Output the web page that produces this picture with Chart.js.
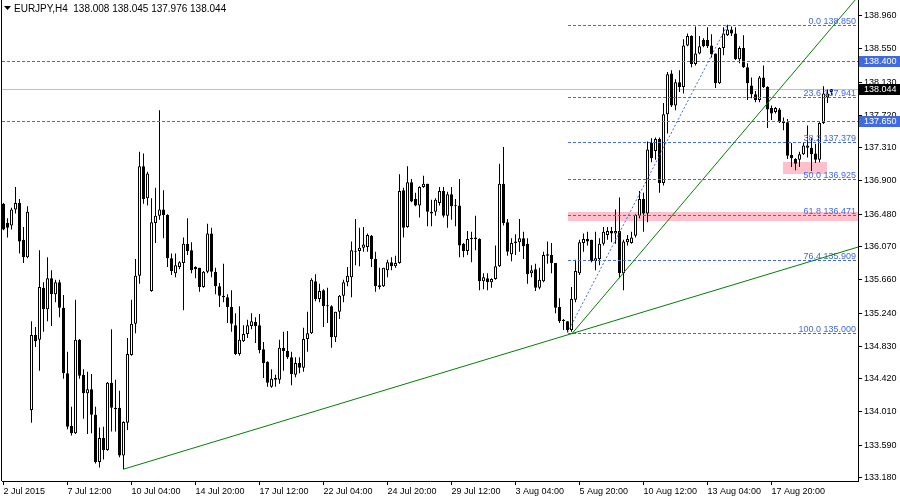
<!DOCTYPE html>
<html>
<head>
<meta charset="utf-8">
<script src="https://cdn.jsdelivr.net/npm/chart.js@4.4.1/dist/chart.umd.min.js"></script>
<style>
  html, body { margin: 0; padding: 0; background: #fff; }
  #wrap { width: 900px; height: 500px; }
</style>
</head>
<body>
<div id="wrap"><canvas id="chart" width="900" height="500"></canvas></div>
<script>
// EURJPY H4, one value per bar, bar 0 = 2 Jul 2015 20:00
const opens = [
  136.61, 136.37, 136.34, 136.54, 136.62, 136.16, 135.94, 134.03, 134.97, 134.91,
  135.56, 135.29, 135.68, 135.48, 135.63, 135.31, 134.49, 133.83, 133.74, 134.91,
  134.47, 134.24, 134.29, 133.97, 133.38, 133.68, 133.53, 134.37, 134.06, 134.06,
  133.46, 133.87, 134.72, 135.11, 135.71, 137.08, 136.68, 135.52, 136.37, 136.46,
  136.54, 136.47, 135.93, 135.74, 135.82, 135.87, 136.11, 136.03, 135.82, 135.81,
  135.57, 135.76, 136.24, 135.76, 135.58, 135.46, 135.44, 135.32, 135.09, 134.73,
  134.89, 134.98, 135.08, 135.13, 135.09, 134.79, 134.63, 134.32, 134.43, 134.41,
  134.81, 134.77, 134.69, 134.47, 134.62, 134.56, 134.92, 134.99, 135.64, 135.42,
  135.53, 135.34, 135.33, 134.94, 135.26, 135.46, 135.63, 135.69, 136.02, 136.02,
  136.06, 136.07, 136.21, 135.92, 135.59, 135.58, 135.78, 135.88, 135.83, 135.87,
  136.78, 136.32, 136.88, 136.67, 136.59, 136.82, 136.86, 136.51, 136.51, 136.62,
  136.77, 136.46, 136.73, 136.59, 136.59, 136.11, 136.02, 136.18, 136.19, 136.17,
  135.64, 135.68, 135.63, 135.67, 135.83, 136.86, 136.38, 135.98, 136.12, 136.13,
  136.18, 136.11, 135.74, 135.79, 135.56, 135.64, 135.98, 135.97, 135.87, 135.32,
  135.16, 135.14, 135.03, 135.41, 135.74, 136.12, 136.17, 136.16, 135.89, 135.92,
  136.11, 136.22, 136.27, 136.24, 136.27, 135.74, 136.13, 136.12, 136.21, 136.46,
  136.67, 136.49, 137.37, 137.27, 137.42, 136.87, 137.73, 138.24, 137.84, 138.13,
  138.07, 138.59, 138.71, 138.36, 138.49, 138.66, 138.66, 138.59, 138.49, 138.12,
  138.56, 138.72, 138.79, 138.74, 138.42, 138.56, 138.32, 138.09, 137.98, 137.91,
  138.19, 138.07, 137.81, 137.76, 137.79, 137.64, 137.63, 137.22, 137.17, 137.16,
  137.23, 137.31, 137.31, 137.24, 137.16, 137.62, 137.94, 138.008
];
const highs = [
  136.62, 136.43, 136.56, 136.82, 136.67, 136.32, 136.58, 135.14, 135.07, 136.03,
  135.63, 135.94, 135.78, 135.66, 135.66, 135.47, 134.76, 134.07, 135.41, 134.92,
  134.54, 134.51, 134.48, 134.07, 133.81, 133.82, 134.38, 135.04, 134.41, 134.27,
  133.89, 134.93, 135.41, 135.92, 137.26, 137.24, 137.01, 136.68, 136.81, 137.78,
  136.78, 136.48, 135.99, 135.99, 135.89, 136.19, 136.43, 136.13, 135.83, 135.81,
  135.77, 136.36, 136.31, 135.81, 135.62, 135.86, 135.48, 135.53, 135.24, 135.33,
  135.09, 135.16, 135.24, 135.19, 135.23, 134.88, 134.64, 134.54, 134.47, 134.91,
  135.01, 135.02, 134.76, 134.69, 134.69, 135.06, 135.26, 135.68, 135.73, 135.61,
  135.54, 135.56, 135.34, 135.26, 135.47, 135.66, 135.82, 136.14, 136.42, 136.31,
  136.32, 136.24, 136.22, 136.01, 135.81, 135.81, 135.91, 135.94, 135.96, 136.98,
  136.81, 137.08, 136.92, 136.75, 136.83, 136.96, 136.86, 136.66, 136.68, 136.82,
  136.82, 136.76, 136.82, 136.67, 136.92, 136.12, 136.27, 136.26, 136.46, 136.18,
  135.74, 135.74, 135.68, 136.09, 137.11, 137.32, 136.42, 136.18, 136.23, 136.42,
  136.26, 136.18, 135.84, 135.86, 135.81, 136.01, 136.14, 136.12, 135.87, 135.43,
  135.17, 135.14, 135.57, 135.91, 136.16, 136.24, 136.26, 136.16, 136.26, 136.18,
  136.32, 136.32, 136.32, 136.54, 136.69, 136.16, 136.22, 136.26, 136.48, 136.77,
  136.75, 137.39, 137.43, 137.44, 137.44, 137.87, 138.26, 138.28, 138.17, 138.28,
  138.67, 138.74, 138.72, 138.83, 138.71, 138.68, 138.82, 138.73, 138.49, 138.57,
  138.82, 138.85, 138.83, 138.82, 138.58, 138.72, 138.37, 138.19, 138.02, 138.21,
  138.34, 138.08, 137.84, 137.82, 137.81, 137.69, 137.67, 137.37, 137.18, 137.26,
  137.37, 137.59, 137.43, 137.36, 137.63, 138.08, 138.04, 138.045
];
const lows = [
  136.28, 136.19, 136.29, 136.49, 135.99, 135.87, 135.93, 133.87, 134.82, 134.52,
  135.01, 135.14, 135.08, 135.38, 135.19, 134.42, 133.79, 133.71, 133.73, 134.42,
  133.92, 133.73, 133.74, 133.36, 133.31, 133.41, 133.52, 133.76, 133.76, 133.44,
  133.29, 133.78, 134.71, 134.99, 135.61, 136.61, 136.59, 135.51, 136.12, 136.41,
  136.18, 135.82, 135.72, 135.69, 135.79, 135.28, 135.97, 135.74, 135.68, 135.51,
  135.56, 135.74, 135.69, 135.48, 135.32, 135.38, 135.12, 135.01, 134.72, 134.71,
  134.88, 134.93, 135.04, 134.87, 134.74, 134.43, 134.32, 134.31, 134.32, 134.36,
  134.52, 134.67, 134.34, 134.44, 134.49, 134.51, 134.76, 134.98, 135.39, 135.38,
  135.07, 135.12, 134.81, 134.88, 135.17, 135.38, 135.58, 135.44, 135.84, 135.83,
  136.01, 136.01, 135.82, 135.51, 135.54, 135.57, 135.69, 135.78, 135.81, 135.86,
  136.19, 136.31, 136.63, 136.58, 136.44, 136.81, 136.33, 136.33, 136.46, 136.59,
  136.44, 136.31, 136.41, 136.33, 135.94, 135.94, 135.97, 135.88, 136.03, 135.53,
  135.54, 135.53, 135.56, 135.66, 135.82, 136.34, 135.96, 135.89, 135.97, 136.01,
  135.92, 135.61, 135.69, 135.52, 135.54, 135.63, 135.86, 135.74, 135.24, 135.12,
  135.03, 135.00, 135.01, 135.38, 135.72, 136.01, 136.09, 135.88, 135.78, 135.84,
  136.09, 136.16, 136.13, 136.11, 135.68, 135.53, 136.09, 136.11, 136.19, 136.43,
  136.26, 136.38, 137.13, 137.16, 136.75, 136.84, 137.49, 137.82, 137.78, 138.01,
  137.99, 138.58, 138.32, 138.34, 138.48, 138.57, 138.56, 138.44, 138.06, 138.11,
  138.47, 138.71, 138.71, 138.41, 138.37, 138.31, 137.91, 137.93, 137.88, 137.88,
  138.06, 137.56, 137.66, 137.74, 137.62, 137.53, 137.17, 137.07, 137.03, 137.07,
  137.22, 137.19, 137.02, 137.12, 137.13, 137.61, 137.87, 137.976
];
const closes = [
  136.29, 136.31, 136.54, 136.62, 136.14, 135.94, 136.51, 134.97, 134.89, 135.57,
  135.29, 135.68, 135.48, 135.63, 135.31, 134.49, 133.82, 133.74, 134.91, 134.46,
  134.24, 134.29, 133.97, 133.38, 133.68, 133.53, 134.37, 134.06, 134.04, 133.46,
  133.88, 134.73, 135.11, 135.71, 137.08, 136.67, 136.99, 136.38, 136.46, 136.54,
  136.47, 135.93, 135.77, 135.84, 135.88, 136.11, 136.02, 135.78, 135.79, 135.57,
  135.76, 136.24, 135.76, 135.58, 135.46, 135.44, 135.32, 135.11, 134.73, 134.91,
  134.98, 135.09, 135.14, 135.08, 134.78, 134.62, 134.37, 134.42, 134.41, 134.81,
  134.77, 134.69, 134.48, 134.62, 134.56, 134.92, 134.99, 135.66, 135.42, 135.52,
  135.33, 135.33, 134.94, 135.26, 135.46, 135.63, 135.71, 136.03, 136.01, 136.06,
  136.10, 136.22, 135.92, 135.58, 135.57, 135.81, 135.88, 135.83, 135.87, 136.77,
  136.31, 136.88, 136.64, 136.59, 136.82, 136.86, 136.51, 136.49, 136.66, 136.77,
  136.46, 136.73, 136.58, 136.58, 136.09, 136.02, 136.17, 136.17, 136.17, 135.64,
  135.69, 135.63, 135.67, 135.83, 136.86, 136.37, 136.01, 136.12, 136.14, 136.18,
  136.08, 135.73, 135.78, 135.56, 135.66, 135.97, 135.96, 135.87, 135.31, 135.14,
  135.14, 135.03, 135.42, 135.77, 136.13, 136.17, 136.14, 135.89, 135.93, 136.11,
  136.26, 136.27, 136.24, 136.27, 135.74, 136.14, 136.17, 136.19, 136.47, 136.67,
  136.49, 137.29, 137.18, 137.42, 136.87, 137.73, 138.23, 137.84, 138.13, 138.07,
  138.59, 138.71, 138.36, 138.49, 138.58, 138.58, 138.58, 138.48, 138.12, 138.56,
  138.74, 138.79, 138.74, 138.42, 138.56, 138.32, 138.12, 137.98, 137.91, 138.19,
  138.07, 137.79, 137.74, 137.81, 137.63, 137.62, 137.21, 137.18, 137.11, 137.23,
  137.34, 137.34, 137.23, 137.16, 137.62, 137.99, 137.99, 138.044
];

// time axis: a label every 16 bars
const timeTickBars = [0, 16, 32, 48, 64, 80, 96, 112, 128, 144, 160, 176, 192];
const timeLabels = [
  "2 Jul 2015", "7 Jul 12:00", "10 Jul 04:00", "14 Jul 20:00", "17 Jul 12:00",
  "22 Jul 04:00", "24 Jul 20:00", "29 Jul 12:00", "3 Aug 04:00", "5 Aug 20:00",
  "10 Aug 12:00", "13 Aug 04:00", "17 Aug 20:00"
];
const priceTicks = [
  138.960, 138.550, 138.130, 137.720, 137.310, 136.900, 136.480, 136.070,
  135.660, 135.240, 134.830, 134.420, 134.010, 133.590, 133.180
];

// objects drawn on the chart
const levelPrices = [138.400, 137.650];
const bidPrice = 138.044;
const fibLevels = [0.0, 23.6, 38.2, 50.0, 61.8, 76.4, 100.0];
const fibHigh = { bar: 181, price: 138.850 };
const fibLow = { bar: 141, price: 135.000 };
const trendLines = [
  { bar1: 30, price1: 133.29, bar2: 141, price2: 134.97 },
  { bar1: 142, price1: 134.98, bar2: 180, price2: 137.22 }
];
const zones = [
  { bar1: 141, bar2: null, top: 136.51, bottom: 136.40 },
  { bar1: 194.8, bar2: 205.8, top: 137.137, bottom: 136.992 }
];
const lastBar = { o: 138.008, h: 138.045, l: 137.976, c: 138.044 };

const BLUE = "#4169e1";
const FONT = "Liberation Sans, Arial, sans-serif";

const bodies = opens.map((o, i) => ({ x: i, y: [o, closes[i]] }));
const wicks = opens.map((o, i) => ({ x: i, y: [lows[i], highs[i]] }));
const bodyFill = opens.map((o, i) => (closes[i] - o > 0.02 ? "#ffffff" : "#000000"));

const overlay = {
  id: "overlay",
  beforeDatasetsDraw(chart) {
    const { ctx, chartArea: a, scales: { x, y } } = chart;
    ctx.save();
    ctx.beginPath();
    ctx.rect(a.left, a.top, a.right - a.left, a.bottom - a.top);
    ctx.clip();
    ctx.fillStyle = "#ffc0cb";
    zones.forEach((z) => {
      const x1 = x.getPixelForValue(z.bar1);
      const x2 = z.bar2 == null ? a.right : x.getPixelForValue(z.bar2);
      const y1 = y.getPixelForValue(z.top);
      const y2 = y.getPixelForValue(z.bottom);
      ctx.fillRect(Math.round(x1), Math.round(y1), Math.round(x2 - x1), Math.round(y2 - y1));
    });
    // bid line
    const by = Math.round(y.getPixelForValue(bidPrice)) + 0.5;
    ctx.strokeStyle = "#c0c0c0";
    ctx.lineWidth = 1;
    ctx.beginPath();
    ctx.moveTo(a.left, by);
    ctx.lineTo(a.right, by);
    ctx.stroke();
    ctx.restore();
  },
  afterDatasetsDraw(chart) {
    const { ctx, chartArea: a, scales: { x, y } } = chart;
    ctx.save();
    ctx.beginPath();
    ctx.rect(a.left, a.top, a.right - a.left, a.bottom - a.top);
    ctx.clip();
    ctx.lineWidth = 1;

    // horizontal levels
    ctx.strokeStyle = BLUE;
    ctx.setLineDash([3, 2]);
    levelPrices.forEach((p) => {
      const py = Math.round(y.getPixelForValue(p)) + 0.5;
      ctx.beginPath();
      ctx.moveTo(a.left, py);
      ctx.lineTo(a.right, py);
      ctx.stroke();
    });

    // fibonacci
    const fx = Math.round(x.getPixelForValue(fibLow.bar));
    ctx.font = "9px " + FONT;
    ctx.textAlign = "right";
    ctx.textBaseline = "alphabetic";
    fibLevels.forEach((lv) => {
      const p = fibHigh.price - (fibHigh.price - fibLow.price) * lv / 100;
      const py = Math.round(y.getPixelForValue(p)) + 0.5;
      ctx.strokeStyle = BLUE;
      ctx.setLineDash([3, 2]);
      ctx.beginPath();
      ctx.moveTo(fx, py);
      ctx.lineTo(a.right, py);
      ctx.stroke();
      ctx.fillStyle = BLUE;
      ctx.fillText(lv.toFixed(1) + " " + p.toFixed(3), a.right - 2, py - 2);
    });
    ctx.setLineDash([2, 2]);
    ctx.beginPath();
    ctx.moveTo(x.getPixelForValue(fibLow.bar), y.getPixelForValue(fibLow.price));
    ctx.lineTo(x.getPixelForValue(fibHigh.bar), y.getPixelForValue(fibHigh.price));
    ctx.stroke();

    // trend lines (rays to the right)
    ctx.setLineDash([]);
    ctx.strokeStyle = "#008000";
    trendLines.forEach((t) => {
      const x1 = x.getPixelForValue(t.bar1), y1 = y.getPixelForValue(t.price1);
      const x2 = x.getPixelForValue(t.bar2), y2 = y.getPixelForValue(t.price2);
      const k = (y2 - y1) / (x2 - x1);
      ctx.beginPath();
      ctx.moveTo(x1, y1);
      ctx.lineTo(a.right, y1 + k * (a.right - x1));
      ctx.stroke();
    });
    ctx.restore();
  },
  afterDraw(chart) {
    const { ctx, chartArea: a, scales: { y } } = chart;
    ctx.save();
    // left frame
    ctx.fillStyle = "#000";
    ctx.fillRect(a.left - 1, a.top, 1, a.bottom - a.top);

    // price labels on the axis
    ctx.font = "9px " + FONT;
    ctx.textAlign = "left";
    ctx.textBaseline = "middle";
    const tag = (p, bg) => {
      const py = Math.round(y.getPixelForValue(p));
      ctx.fillStyle = bg;
      ctx.fillRect(a.right + 1, py - 5, chart.width - a.right - 1, 11);
      ctx.fillStyle = "#fff";
      ctx.fillText(p.toFixed(3), a.right + 6, py + 0.5);
    };
    levelPrices.forEach((p) => tag(p, BLUE));
    tag(bidPrice, "#000");

    // header
    ctx.fillStyle = "#000";
    ctx.beginPath();
    ctx.moveTo(4, 6);
    ctx.lineTo(11, 6);
    ctx.lineTo(7.5, 10);
    ctx.closePath();
    ctx.fill();
    ctx.font = "10px " + FONT;
    ctx.textBaseline = "alphabetic";
    ctx.fillText("EURJPY,H4  " + [lastBar.o, lastBar.h, lastBar.l, lastBar.c].map((v) => v.toFixed(3)).join(" "), 14, 12);
    ctx.restore();
  }
};

new Chart(document.getElementById("chart"), {
  type: "bar",
  data: {
    datasets: [
      {
        data: bodies,
        backgroundColor: bodyFill,
        borderColor: "#000",
        borderWidth: 1,
        borderSkipped: false,
        barThickness: 3,
        minBarLength: 1,
        grouped: false,
        inflateAmount: 0
      },
      {
        data: wicks,
        backgroundColor: "#000",
        borderWidth: 0,
        barThickness: 1,
        grouped: false,
        inflateAmount: 0
      }
    ]
  },
  options: {
    responsive: false,
    animation: false,
    devicePixelRatio: 1,
    layout: { padding: { left: 2, top: 0, right: 0, bottom: 0 } },
    plugins: { legend: { display: false }, tooltip: { enabled: false } },
    scales: {
      x: {
        type: "linear",
        offset: false,
        min: -0.375,
        max: 213.625,
        afterFit: (s) => { s.height = 19; s.paddingLeft = 0; s.paddingRight = 0; },
        afterBuildTicks: (s) => { s.ticks = timeTickBars.map((v) => ({ value: v })); },
        grid: { offset: false, drawOnChartArea: false, drawTicks: true, tickLength: 4, color: "#000" },
        border: { display: true, color: "#000" },
        ticks: {
          autoSkip: false,
          maxRotation: 0,
          align: "start",
          padding: 1,
          color: "#000",
          font: { family: FONT, size: 9 },
          callback: (v, i) => timeLabels[i]
        }
      },
      y: {
        position: "right",
        min: 139.16 - 481 * 0.012511,
        max: 139.16,
        afterFit: (s) => { s.width = 42; s.paddingTop = 0; s.paddingBottom = 0; },
        afterBuildTicks: (s) => { s.ticks = priceTicks.map((v) => ({ value: v })); },
        grid: { drawOnChartArea: false, drawTicks: true, tickLength: 4, color: "#000" },
        border: { display: true, color: "#000" },
        ticks: {
          padding: 2,
          color: "#000",
          font: { family: FONT, size: 9 },
          callback: (v) => Number(v).toFixed(3)
        }
      }
    }
  },
  plugins: [overlay]
});
</script>
</body>
</html>
